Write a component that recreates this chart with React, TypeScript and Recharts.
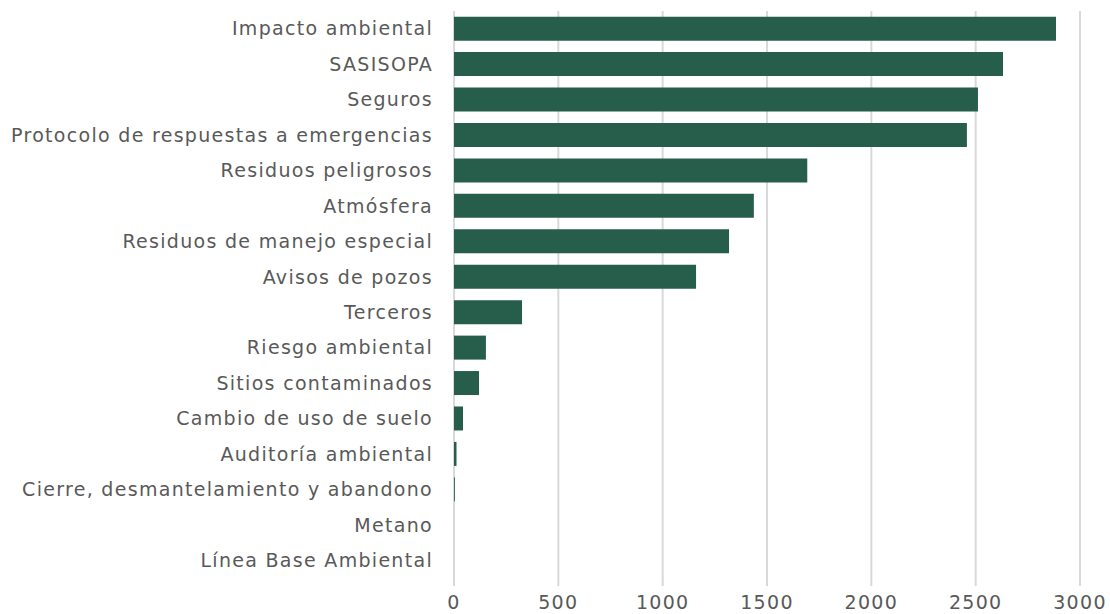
import { BarChart, Bar, XAxis, YAxis, CartesianGrid } from "recharts"

const categories = [
  "Impacto ambiental",
  "SASISOPA",
  "Seguros",
  "Protocolo de respuestas a emergencias",
  "Residuos peligrosos",
  "Atmósfera",
  "Residuos de manejo especial",
  "Avisos de pozos",
  "Terceros",
  "Riesgo ambiental",
  "Sitios contaminados",
  "Cambio de uso de suelo",
  "Auditoría ambiental",
  "Cierre, desmantelamiento y abandono",
  "Metano",
  "Línea Base Ambiental",
]

const values = [
  2885, 2631, 2511, 2458, 1693, 1437, 1318, 1160, 326, 153, 120, 43, 12, 4, 0, 0,
]

const xTicks = [0, 500, 1000, 1500, 2000, 2500, 3000]

const data = categories.map((name, i) => ({ name, value: values[i] }))

const font = "DejaVu Sans"
const textColor = "#595959"
const gridColor = "#d9d9d9"
const tickStyle = { fill: textColor, fontFamily: font, fontSize: 19, letterSpacing: 1.3 }

export default function App() {
  return (
    <div style={{ position: "absolute", left: 0, top: 0, background: "#fff" }}>
      <BarChart
        width={1110}
        height={614}
        data={data}
        layout="vertical"
        margin={{ top: 11, right: 30, bottom: 0, left: 0 }}
        barCategoryGap="16%"
      >
        <CartesianGrid horizontal={false} stroke={gridColor} strokeWidth={2} />
        <XAxis
          type="number"
          domain={[0, 3000]}
          ticks={xTicks}
          axisLine={false}
          tickLine={{ stroke: gridColor, strokeWidth: 2 }}
          tickSize={8}
          tickMargin={10}
          height={36}
          tick={tickStyle}
        />
        <YAxis
          type="category"
          dataKey="name"
          width={454}
          axisLine={false}
          tickLine={false}
          tickSize={0}
          tickMargin={21}
          interval={0}
          tick={tickStyle}
        />
        <Bar dataKey="value" fill="#275e4b" isAnimationActive={false} />
      </BarChart>
    </div>
  )
}
